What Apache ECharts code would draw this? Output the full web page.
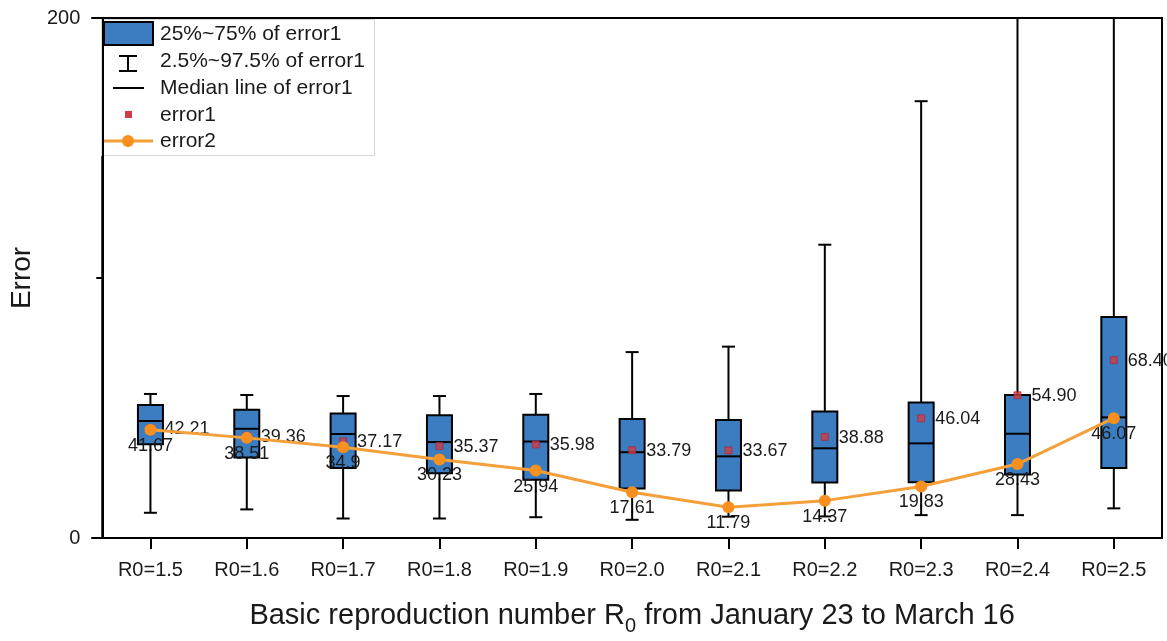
<!DOCTYPE html>
<html><head><meta charset="utf-8">
<script src="https://cdn.jsdelivr.net/npm/echarts@6/dist/echarts.min.js"></script>
<style>html,body{margin:0;padding:0;background:#fff;overflow:hidden}#c{width:1167px;height:641px}</style>
</head><body><div id="c"></div>
<script>
const categories = ['R0=1.5','R0=1.6','R0=1.7','R0=1.8','R0=1.9','R0=2.0','R0=2.1','R0=2.2','R0=2.3','R0=2.4','R0=2.5'];
const whiskerLow  = [9.7, 11.0, 7.5, 7.5, 8.0, 7.0, 8.2, 8.3, 8.8, 8.8, 11.4];
const q1          = [36.1, 31.0, 26.9, 24.9, 22.4, 19.0, 18.3, 21.3, 21.4, 24.4, 26.9];
const median      = [45.0, 42.0, 40.0, 36.9, 37.1, 33.0, 31.4, 34.5, 36.4, 40.1, 46.4];
const q3          = [51.2, 49.3, 47.9, 47.2, 47.4, 45.8, 45.4, 48.7, 52.1, 55.0, 85.0];
const whiskerHigh = [55.4, 55.0, 54.6, 54.6, 55.4, 71.5, 73.6, 112.8, 168.0, 230, 260];
const error1 = [42.21, 39.36, 37.17, 35.37, 35.98, 33.79, 33.67, 38.88, 46.04, 54.90, 68.40];
const error2 = [41.67, 38.51, 34.9, 30.23, 25.94, 17.61, 11.79, 14.37, 19.83, 28.43, 46.07];
const yTicks = [0, 200];

const FONT = '"Liberation Sans", Arial, sans-serif';
const BLUE = '#3B7DC0';
const RED = '#D23B48';
const ORANGE_LINE = '#F4A03A';
const ORANGE_DOT = '#F7901E';
const TXT = '#1a1a1a';

const chart = echarts.init(document.getElementById('c'));

const boxData = categories.map((c, i) => [i, q1[i], median[i], q3[i]]);
const whiskerData = categories.map((c, i) => [i, whiskerLow[i], q1[i], q3[i], whiskerHigh[i]]);
const labelData = categories.map((c, i) => [i, error1[i], error2[i]]);

const BOX_W = 25, CAP_W = 13;

chart.setOption({
  animation: false,
  grid: { left: 100, top: 18, width: 1062, height: 527, show: true, borderColor: '#000', borderWidth: 2, backgroundColor: 'transparent' },
  xAxis: {
    type: 'category', data: categories, boundaryGap: true,
    axisLine: { show: true, lineStyle: { color: '#000', width: 2 } },
    axisTick: { show: true, alignWithLabel: true, length: 11, lineStyle: { color: '#000', width: 2 } },
    axisLabel: { fontSize: 20, margin: 22, color: TXT, fontFamily: FONT },
    name: '{a|Basic reproduction number R}{s|0}{a| from January 23 to March 16}',
    nameLocation: 'middle', nameGap: 58,
    nameTextStyle: {
      fontFamily: FONT, color: TXT,
      rich: {
        a: { fontSize: 29, fontFamily: FONT, color: TXT, lineHeight: 40, verticalAlign: 'middle' },
        s: { fontSize: 20, fontFamily: FONT, color: TXT, lineHeight: 22, verticalAlign: 'bottom' }
      }
    }
  },
  yAxis: {
    type: 'value', min: 0, max: 200, interval: 200,
    axisLine: { show: true, lineStyle: { color: '#000', width: 2 } },
    axisTick: { show: true, length: 11, lineStyle: { color: '#000', width: 2 } },
    minorTick: { show: true, splitNumber: 2, length: 6, lineStyle: { color: '#000', width: 2 } },
    splitLine: { show: false },
    axisLabel: { fontSize: 20, margin: 22, color: TXT, fontFamily: FONT,
      formatter: v => yTicks.indexOf(v) >= 0 ? String(v) : '' },
    name: 'Error', nameLocation: 'middle', nameGap: 64, nameRotate: 90,
    nameTextStyle: { fontSize: 28, fontFamily: FONT, color: TXT }
  },
  series: [
    {
      name: '25%~75% of error1', type: 'custom', z: 2,
      data: boxData, encode: { x: 0, y: [1, 2, 3] },
      renderItem: function (params, api) {
        const x = api.value(0);
        const pLow = api.coord([x, api.value(1)]);
        const pMed = api.coord([x, api.value(2)]);
        const pHigh = api.coord([x, api.value(3)]);
        return { type: 'group', children: [
          { type: 'rect', shape: { x: pLow[0] - BOX_W / 2, y: pHigh[1], width: BOX_W, height: pLow[1] - pHigh[1] },
            style: { fill: BLUE, stroke: '#000', lineWidth: 2 } },
          { type: 'line', shape: { x1: pMed[0] - BOX_W / 2, y1: pMed[1], x2: pMed[0] + BOX_W / 2, y2: pMed[1] },
            style: { stroke: '#000', lineWidth: 2 } }
        ]};
      }
    },
    {
      name: 'labels', type: 'custom', z: 3, silent: true,
      data: labelData, encode: { x: 0, y: [1, 2] },
      renderItem: function (params, api) {
        const x = api.value(0);
        const p1 = api.coord([x, api.value(1)]);
        const p2 = api.coord([x, api.value(2)]);
        return { type: 'group', children: [
          { type: 'text', style: { text: api.value(1).toFixed(2), x: p1[0] + 14, y: p1[1] + 1,
              align: 'left', verticalAlign: 'middle', fontSize: 18, fontFamily: FONT, fill: TXT } },
          { type: 'text', style: { text: String(error2[params.dataIndex]), x: p2[0], y: p2[1] + 16,
              align: 'center', verticalAlign: 'middle', fontSize: 18, fontFamily: FONT, fill: TXT } }
        ]};
      }
    },
    {
      name: '2.5%~97.5% of error1', type: 'custom', z: 4, clip: true,
      data: whiskerData, encode: { x: 0, y: [1, 2, 3, 4] },
      renderItem: function (params, api) {
        const x = api.value(0);
        const pL = api.coord([x, api.value(1)]);
        const pQ1 = api.coord([x, api.value(2)]);
        const pQ3 = api.coord([x, api.value(3)]);
        const pH = api.coord([x, api.value(4)]);
        const st = { stroke: '#000', lineWidth: 2 };
        return { type: 'group', children: [
          { type: 'line', shape: { x1: pL[0], y1: pL[1], x2: pQ1[0], y2: pQ1[1] }, style: st },
          { type: 'line', shape: { x1: pL[0] - CAP_W / 2, y1: pL[1], x2: pL[0] + CAP_W / 2, y2: pL[1] }, style: st },
          { type: 'line', shape: { x1: pQ3[0], y1: pQ3[1], x2: pH[0], y2: pH[1] }, style: st },
          { type: 'line', shape: { x1: pH[0] - CAP_W / 2, y1: pH[1], x2: pH[0] + CAP_W / 2, y2: pH[1] }, style: st }
        ]};
      }
    },
    {
      name: 'error1', type: 'scatter', z: 5, data: error1,
      symbol: 'rect', symbolSize: 7, itemStyle: { color: RED, borderColor: '#a8262f', borderWidth: 0.8 }
    },
    {
      name: 'error2', type: 'line', z: 6, data: error2,
      symbol: 'circle', symbolSize: 12, showAllSymbol: true,
      lineStyle: { color: ORANGE_LINE, width: 3 },
      itemStyle: { color: ORANGE_DOT, borderWidth: 0 }
    }
  ],
  graphic: [
    { type: 'group', z: 100, children: [
      { type: 'rect', shape: { x: 101.5, y: 19.5, width: 273, height: 136 }, style: { fill: '#fff', stroke: '#d8d8d8', lineWidth: 1 } },
      { type: 'rect', shape: { x: 104, y: 22, width: 49, height: 23 }, style: { fill: BLUE, stroke: '#000', lineWidth: 2 } },
      { type: 'text', style: { text: '25%~75% of error1', x: 160, y: 34, verticalAlign: 'middle', fontSize: 21, fontFamily: FONT, fill: TXT } },
      { type: 'line', shape: { x1: 128, y1: 56, x2: 128, y2: 71 }, style: { stroke: '#000', lineWidth: 2 } },
      { type: 'line', shape: { x1: 119, y1: 56, x2: 137, y2: 56 }, style: { stroke: '#000', lineWidth: 2 } },
      { type: 'line', shape: { x1: 119, y1: 71, x2: 137, y2: 71 }, style: { stroke: '#000', lineWidth: 2 } },
      { type: 'text', style: { text: '2.5%~97.5% of error1', x: 160, y: 61, verticalAlign: 'middle', fontSize: 21, fontFamily: FONT, fill: TXT } },
      { type: 'line', shape: { x1: 113, y1: 88, x2: 144, y2: 88 }, style: { stroke: '#000', lineWidth: 2 } },
      { type: 'text', style: { text: 'Median line of error1', x: 160, y: 88, verticalAlign: 'middle', fontSize: 21, fontFamily: FONT, fill: TXT } },
      { type: 'rect', shape: { x: 125, y: 111, width: 7, height: 7 }, style: { fill: RED } },
      { type: 'text', style: { text: 'error1', x: 160, y: 115, verticalAlign: 'middle', fontSize: 21, fontFamily: FONT, fill: TXT } },
      { type: 'line', shape: { x1: 102, y1: 141, x2: 153, y2: 141 }, style: { stroke: ORANGE_LINE, lineWidth: 3 } },
      { type: 'circle', shape: { cx: 128, cy: 141, r: 6 }, style: { fill: ORANGE_DOT } },
      { type: 'text', style: { text: 'error2', x: 160, y: 141, verticalAlign: 'middle', fontSize: 21, fontFamily: FONT, fill: TXT } }
    ]}
  ]
});
</script></body></html>
